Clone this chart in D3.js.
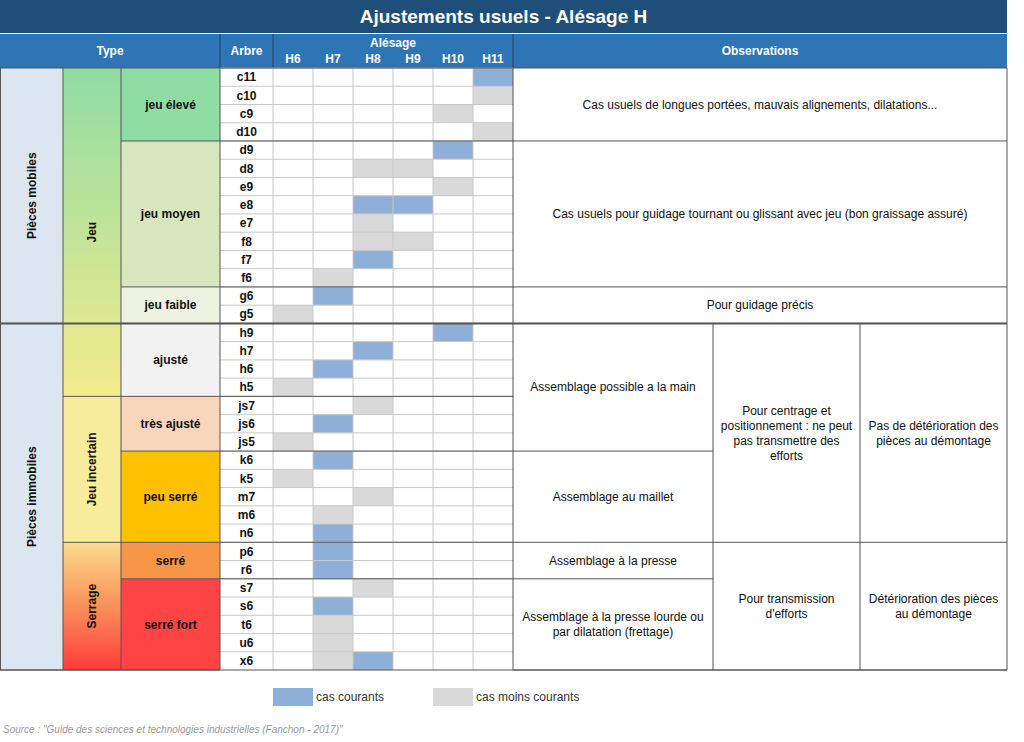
<!DOCTYPE html>
<html><head><meta charset="utf-8">
<script src="https://cdn.jsdelivr.net/npm/d3@7"></script>
<style>body{margin:0;background:#fff;font-family:"Liberation Sans",Arial,sans-serif}</style>
</head><body><svg id="c" width="1024" height="742"></svg>
<script>
const shafts=["c11","c10","c9","d10","d9","d8","e9","e8","e7","f8","f7","f6","g6","g5","h9","h7","h6","h5","js7","js6","js5","k6","k5","m7","m6","n6","p6","r6","s7","s6","t6","u6","x6"];
const bores=["H6","H7","H8","H9","H10","H11"];
// cells: [shaft, bore, 1=courant 2=moins courant]
const cells=[["c11","H11",1],["c10","H11",2],["c9","H10",2],["d10","H11",2],["d9","H10",1],["d8","H8",2],["d8","H9",2],["e9","H10",2],["e8","H8",1],["e8","H9",1],["e7","H8",2],["f8","H8",2],["f8","H9",2],["f7","H8",1],["f6","H7",2],["g6","H7",1],["g5","H6",2],["h9","H10",1],["h7","H8",1],["h6","H7",1],["h5","H6",2],["js7","H8",2],["js6","H7",1],["js5","H6",2],["k6","H7",1],["k5","H6",2],["m7","H8",2],["m6","H7",2],["n6","H7",1],["p6","H7",1],["r6","H7",1],["s7","H8",2],["s6","H7",1],["t6","H7",2],["u6","H7",2],["x6","H7",2],["x6","H8",1]];
const level1=[["Pièces mobiles","c11","g5"],["Pièces immobiles","h9","x6"]];
const level2=[["Jeu","c11","h5"],["Jeu incertain","js7","n6"],["Serrage","p6","x6"]];
const level3=[["jeu élevé","c11","d10","#8fdca4"],["jeu moyen","d9","f6","#d8e6bd"],["jeu faible","g6","g5","#eef3e1"],["ajusté","h9","h5","#f2f2f2"],["très ajusté","js7","js5","#f8d5bb"],["peu serré","k6","n6","#ffc000"],["serré","p6","r6","#f79646"],["serré fort","s7","x6","#ff4444"]];
const obsFull=[["Cas usuels de longues portées, mauvais alignements, dilatations...","c11","d10"],["Cas usuels pour guidage tournant ou glissant avec jeu (bon graissage assuré)","d9","f6"],["Pour guidage précis","g6","g5"]];
const obsA=[["Assemblage possible a la main","h9","js5"],["Assemblage au maillet","k6","n6"],["Assemblage à la presse","p6","r6"],["Assemblage à la presse lourde ou|par dilatation (frettage)","s7","x6"]];
const obsB=[["Pour centrage et|positionnement : ne peut|pas transmettre des|efforts","h9","n6"],["Pour transmission|d'efforts","p6","x6"]];
const obsC=[["Pas de détérioration des|pièces au démontage","h9","n6"],["Détérioration des pièces|au démontage","p6","x6"]];

const svg=d3.select("#c");
const y=d3.scaleBand().domain(shafts).range([68,670]);
const x=d3.scaleBand().domain(bores).range([273,513]);
const X0=0,X1=63,X2=121,X3=220,XO=513,XA=713,XB=860,XE=1007;
const span=(a,b)=>[y(a),y(b)+y.bandwidth()];
const defs=svg.append("defs");
const g1=defs.append("linearGradient").attr("id","gj").attr("x1",0).attr("x2",0).attr("y1",0).attr("y2",1);
g1.append("stop").attr("offset",0).attr("stop-color","#8fdca4");g1.append("stop").attr("offset",1).attr("stop-color","#f5ec8c");
const g2=defs.append("linearGradient").attr("id","gs").attr("x1",0).attr("x2",0).attr("y1",0).attr("y2",1);
g2.append("stop").attr("offset",0).attr("stop-color","#fbdc8c");g2.append("stop").attr("offset",0.5).attr("stop-color","#f9905a");g2.append("stop").attr("offset",1).attr("stop-color","#ff3b3b");
// title
svg.append("rect").attr("x",0).attr("y",0).attr("width",XE).attr("height",33).attr("fill","#1f4e79");
svg.append("text").attr("x",XE/2).attr("y",23).attr("text-anchor","middle").attr("fill","#fff").attr("font-size",19).attr("font-weight","bold").text("Ajustements usuels - Alésage H");
// header
svg.append("rect").attr("x",0).attr("y",34).attr("width",XE).attr("height",34).attr("fill","#2e75b6");
const ht=(t,xx,yy)=>svg.append("text").attr("x",xx).attr("y",yy).attr("text-anchor","middle").attr("fill","#fff").attr("font-size",12).attr("font-weight","bold").text(t);
ht("Type",110,55);ht("Arbre",246.5,55);ht("Alésage",393,47);ht("Observations",760,55);
bores.forEach(b=>ht(b,x(b)+x.bandwidth()/2,63));
[[X3,34,68],[x.range()[0],34,68],[XO,34,68]].forEach(([xx,a,b])=>svg.append("line").attr("x1",xx).attr("x2",xx).attr("y1",a).attr("y2",b).attr("stroke","#1f3f60"));
// level fills
level1.forEach(([t,a,b])=>{const[s,e]=span(a,b);svg.append("rect").attr("x",X0).attr("y",s).attr("width",X1-X0).attr("height",e-s).attr("fill","#dce6f1");});
const l2f=["url(#gj)","#f7ec9c","url(#gs)"];
level2.forEach(([t,a,b],i)=>{const[s,e]=span(a,b);svg.append("rect").attr("x",X1).attr("y",s).attr("width",X2-X1).attr("height",e-s).attr("fill",l2f[i]);});
level3.forEach(([t,a,b,c])=>{const[s,e]=span(a,b);svg.append("rect").attr("x",X2).attr("y",s).attr("width",X3-X2).attr("height",e-s).attr("fill",c);});
// cells
svg.selectAll("rect.cell").data(cells).join("rect").attr("x",d=>x(d[1])).attr("y",d=>y(d[0])).attr("width",x.bandwidth()).attr("height",y.bandwidth()).attr("fill",d=>d[2]===1?"#8eb0d8":"#d9d9d9");
// grid
shafts.forEach(s=>svg.append("line").attr("x1",X3).attr("x2",XO).attr("y1",y(s)).attr("y2",y(s)).attr("stroke","#c8c8c8"));
bores.forEach(b=>svg.append("line").attr("x1",x(b)).attr("x2",x(b)).attr("y1",68).attr("y2",670).attr("stroke","#c8c8c8"));
const L=(x1,y1,x2,y2,c,w)=>svg.append("line").attr("x1",x1).attr("y1",y1).attr("x2",x2).attr("y2",y2).attr("stroke",c||"#555").attr("stroke-width",w||1);
const txt=(t,cx,cy,opts={})=>{const lines=t.split("|");const lh=opts.lh||15;const el=svg.append("text").attr("text-anchor","middle").attr("font-size",opts.fs||12).attr("fill","#111").attr("font-weight",opts.b?"bold":null);
 if(opts.rot){el.attr("transform",`translate(${cx},${cy}) rotate(-90)`).attr("dy","0.35em").text(t);return;}
 lines.forEach((l,i)=>el.append("tspan").attr("x",cx).attr("y",cy+(i-(lines.length-1)/2)*lh).attr("dy","0.35em").text(l));};
level1.forEach(([t,a,b])=>{const[s,e]=span(a,b);txt(t,32,(s+e)/2,{rot:1,b:1});L(X0,e,X1,e);});
level2.forEach(([t,a,b])=>{const[s,e]=span(a,b);txt(t,92,(s+e)/2,{rot:1,b:1});L(X1,e,X2,e);});
level3.forEach(([t,a,b])=>{const[s,e]=span(a,b);txt(t,170.5,(s+e)/2,{b:1});L(X2,e,X3,e);});
shafts.forEach(s=>txt(s,246.5,y(s)+y.bandwidth()/2,{b:1}));
obsFull.forEach(([t,a,b])=>{const[s,e]=span(a,b);txt(t,760,(s+e)/2);L(X3,e,XE,e);});
obsA.forEach(([t,a,b])=>{const[s,e]=span(a,b);txt(t,613,(s+e)/2);L(XO,e,XA,e);});
obsB.forEach(([t,a,b])=>{const[s,e]=span(a,b);txt(t,786.5,(s+e)/2);L(XA,e,XB,e);});
obsC.forEach(([t,a,b])=>{const[s,e]=span(a,b);txt(t,933.5,(s+e)/2);L(XB,e,XE,e);});
L(X3,y("p6"),XO,y("p6"));L(X3,y("s7"),XO,y("s7"));L(X3,y("k6"),XO,y("k6"));L(X3,y("js7"),XO,y("js7"));
L(X0,y("h9"),XE,y("h9"),"#555",2);
[X0+0.5,X1,X2,X3,XO,XE].forEach(xx=>L(xx,68,xx,670));
[XA,XB].forEach(xx=>L(xx,y("h9"),xx,670));
L(0,68,XE,68);L(0,670,XE,670);
// legend
svg.append("rect").attr("x",273).attr("y",688).attr("width",40).attr("height",18).attr("fill","#8eb0d8");
svg.append("text").attr("x",316).attr("y",701).attr("font-size",12).attr("fill","#333").text("cas courants");
svg.append("rect").attr("x",433).attr("y",688).attr("width",40).attr("height",18).attr("fill","#d9d9d9");
svg.append("text").attr("x",476).attr("y",701).attr("font-size",12).attr("fill","#333").text("cas moins courants");
svg.append("text").attr("x",3).attr("y",733).attr("font-size",10).attr("font-style","italic").attr("fill","#999").text("Source : \"Guide des sciences et technologies industrielles (Fanchon - 2017)\"");
</script></body></html>
